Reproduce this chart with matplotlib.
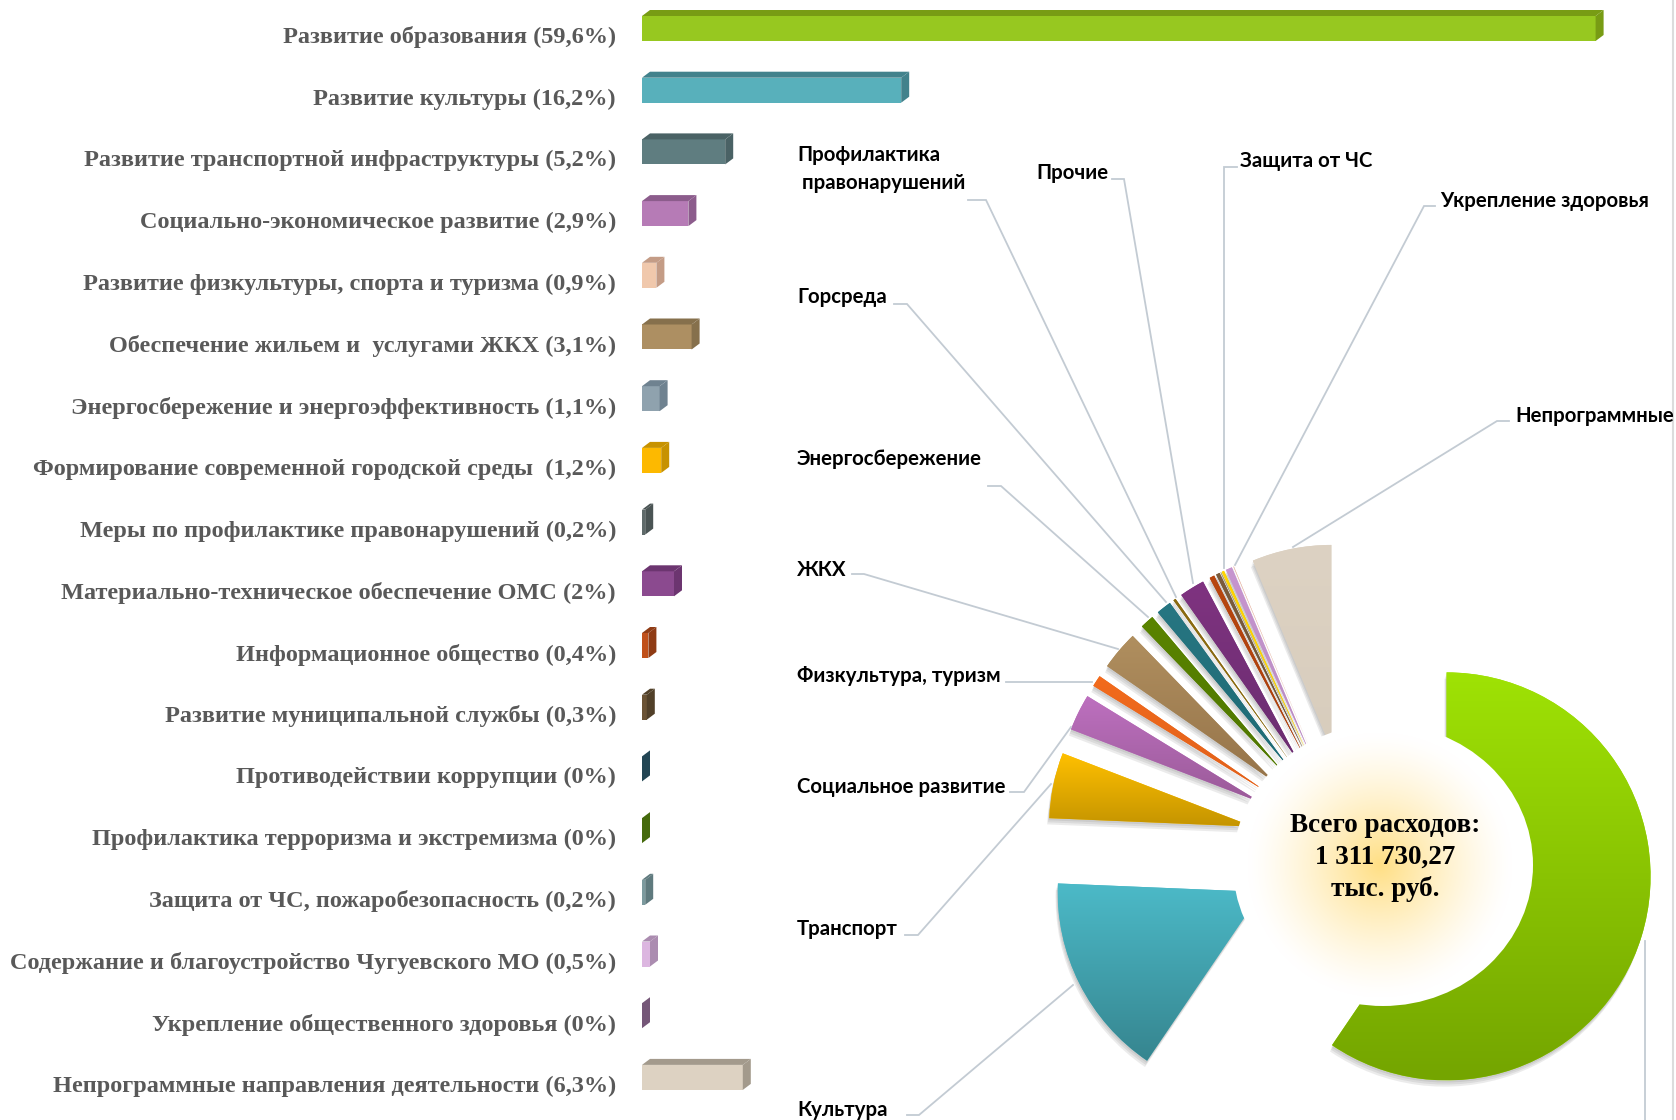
import numpy as np
import matplotlib
matplotlib.use('Agg')
import matplotlib.pyplot as plt
import matplotlib.patheffects as pe
from matplotlib.colors import to_rgb
from matplotlib.patches import Ellipse, Polygon

W, H = 1676, 1120

# bars, in the order of the chart
bar_labels = ['Развитие образования (59,6%)', 'Развитие культуры (16,2%)',
              'Развитие транспортной инфраструктуры (5,2%)', 'Социально-экономическое развитие (2,9%)',
              'Развитие физкультуры, спорта и туризма (0,9%)', 'Обеспечение жильем и  услугами ЖКХ (3,1%)',
              'Энергосбережение и энергоэффективность (1,1%)', 'Формирование современной городской среды  (1,2%)',
              'Меры по профилактике правонарушений (0,2%)', 'Материально-техническое обеспечение ОМС (2%)',
              'Информационное общество (0,4%)', 'Развитие муниципальной службы (0,3%)',
              'Противодействии коррупции (0%)', 'Профилактика терроризма и экстремизма (0%)',
              'Защита от ЧС, пожаробезопасность (0,2%)', 'Содержание и благоустройство Чугуевского МО (0,5%)',
              'Укрепление общественного здоровья (0%)', 'Непрограммные направления деятельности (6,3%)']
bar_values = [59.6, 16.2, 5.2, 2.9, 0.9, 3.1, 1.1, 1.2, 0.2, 2.0, 0.4, 0.3, 0.0, 0.0, 0.2, 0.5, 0.0, 6.3]
bar_front = ['#97c820', '#58b0bb', '#5f7d80', '#b67bb6', '#f0c8ac', '#ad8f62', '#8fa2ae', '#fdb900', '#5f6a6a',
             '#8b4a8f', '#c0501a', '#6b5335', '#2e5b6b', '#5a8a10', '#7c9a9e', '#dcb6e0', '#97709a', '#ddd2c2']
bar_dark = ['#789c14', '#42828c', '#4a6265', '#8c5c8c', '#c49c86', '#86704c', '#6f8290', '#c79200', '#4a5454',
            '#6c3570', '#8f3b14', '#514029', '#234654', '#456a0c', '#5f7a7e', '#ab8cb0', '#755778', '#a39a8c']

# pie, the zero shares are very thin slivers in the picture
pie_values = [59.6, 16.2, 5.2, 2.9, 0.9, 3.1, 1.1, 1.2, 0.2, 2.0, 0.4, 0.3, 0.02, 0.02, 0.2, 0.5, 0.04, 6.3]
pie_top = ['#9fe205', '#4cbac8', '#ffc000', '#bd70bf', '#f26b1d', '#b08f5f', '#5a8400', '#277682', '#8a6a10',
           '#7f3380', '#b8460f', '#7c5c3c', '#9a8a50', '#9a8a50', '#ffd500', '#c795cf', '#e8b8a8', '#ddd2c3']
pie_bottom = ['#74a500', '#36858f', '#c49400', '#9a5a98', '#e0601a', '#96744a', '#4f7600', '#1e6a74', '#8a6a10',
              '#6a2d70', '#a83f0d', '#6c5236', '#9a8a50', '#9a8a50', '#ffd500', '#b98cc2', '#e8b8a8', '#d8cdbd']

# name labels of the pie: text, x, y of the text, and the leader line
pie_names = ['Профилактика\n правонарушений', 'Прочие', 'Защита от ЧС', 'Укрепление здоровья', 'Горсреда',
             'Непрограммные', 'Энергосбережение', 'ЖКХ', 'Физкультура, туризм', 'Социальное развитие',
             'Транспорт', 'Культура']
name_pos = [(797, 169), (1036, 173), (1240, 161), (1440, 201), (797, 297), (1515, 416), (797, 459), (797, 570),
            (797, 676), (797, 787), (797, 929), (797, 1110)]
leaders = [[(968, 200), (986, 200), (1176, 597)], [(1112, 179), (1124, 179), (1193, 583)],
           [(1237, 167), (1224, 167), (1224, 568)], [(1435, 206), (1424, 206), (1235, 565)],
           [(894, 304), (907, 304), (1166, 602)], [(1509, 421), (1497, 421), (1293, 547)],
           [(988, 486), (1001, 486), (1148, 617)], [(852, 574), (864, 574), (1118, 649)],
           [(1006, 682), (1092, 682)], [(1010, 792), (1024, 792), (1071, 727)],
           [(905, 935), (918, 935), (1051, 784)], [(907, 1115), (919, 1115), (1073, 985)],
           [(1645, 941), (1645, 1120)]]


def px_axes(fig, left, top, right, bottom):
    return fig.add_axes([left / W, 1 - bottom / H, (right - left) / W, (bottom - top) / H])


def draw_bars(fig):
    x0, per_pct, y0, step = 642, 16.0, 28.5, 61.7
    ax = px_axes(fig, x0, 0, W, H)
    ax.set_xlim(0, (W - x0) / per_pct)
    ax.set_ylim((H - y0) / step, -y0 / step)
    ax.axis('off')
    h = 25 / step
    dx, dy = 8 / per_pct, 6 / step
    y = np.arange(len(bar_values))
    ax.barh(y, bar_values, height=h, color=bar_front, linewidth=0)
    for i, v in enumerate(bar_values):
        up = i - h / 2
        down = i + h / 2
        ax.add_patch(Polygon([(0, up), (v, up), (v + dx, up - dy), (dx, up - dy)], color=bar_dark[i], lw=0))
        ax.add_patch(Polygon([(v, up), (v + dx, up - dy), (v + dx, down - dy), (v, down)], color=bar_dark[i], lw=0))
        ax.annotate(bar_labels[i], xy=(0, i), xytext=(-26, -9), textcoords='offset pixels', ha='right', va='center',
                    family='Liberation Serif', weight='bold', fontsize=17.45, color='#595959', annotation_clip=False)


def draw_pie(fig):
    cx, cy, r = 1351, 847, 204
    left, top = 1000, 480
    ax = px_axes(fig, left, top, W, H)
    wedges, _ = ax.pie(pie_values, explode=[100 / r] * len(pie_values), startangle=90, counterclock=False,
                       radius=1, colors=pie_top, wedgeprops={'linewidth': 0}, frame=True)
    ax.set_aspect('equal')
    ax.axis('off')
    shadow = [pe.SimplePatchShadow(offset=(-o / 2, -1.5 * o), shadow_rgbFace='#606060', alpha=0.12) for o in (1, 2, 3)]
    for i, w in enumerate(wedges):
        w.set_path_effects(shadow + [pe.Normal()])
        w.set_zorder(1)
        ext = w.get_path().transformed(w.get_patch_transform()).get_extents()
        c1, c2 = np.array(to_rgb(pie_top[i])), np.array(to_rgb(pie_bottom[i]))
        t = np.linspace(0, 1, 128)[:, None, None]
        grad = c1[None, None, :] * (1 - t) + c2[None, None, :] * t
        im = ax.imshow(grad, extent=[ext.x0, ext.x1, ext.y0, ext.y1], origin='upper', aspect='auto', zorder=2)
        im.set_clip_path(w)
    ax.set_xlim((left - cx) / r, (W - cx) / r)
    ax.set_ylim((cy - H) / r, (cy - top) / r)


def draw_overlay(fig):
    ax = px_axes(fig, 0, 0, W, H)
    ax.patch.set_alpha(0)
    ax.axis('off')

    # white hole with the soft glow behind the total
    hx, hy, rx, ry = 1383, 865, 150, 141
    gx, gy = 1380, 865
    xx, yy = np.meshgrid(np.arange(hx - rx, hx + rx + 1), np.arange(hy - ry, hy + ry + 1))
    d = np.clip(np.hypot(xx - gx, yy - gy) / 132, 0, 1)
    mix = (1 - d)[:, :, None] ** 1.3
    glow = np.ones(xx.shape + (3,)) * (1 - mix) + np.array(to_rgb('#ffdf85')) * mix
    im = ax.imshow(glow, extent=[hx - rx, hx + rx, hy + ry, hy - ry], aspect='auto', zorder=3)
    hole = Ellipse((hx, hy), 2 * rx, 2 * ry, transform=ax.transData, facecolor='none', edgecolor='none')
    ax.add_patch(hole)
    im.set_clip_path(hole)
    ax.set_xlim(0, W)
    ax.set_ylim(H, 0)

    for line in leaders:
        xs, ys = zip(*line)
        ax.plot(xs, ys, color='#c3cbd3', lw=1.3, zorder=0.5, solid_joinstyle='miter')
    ax.plot([1673, 1673], [0, H], color='#dcdcdc', lw=1.5, zorder=0.5)

    for name, (x, y) in zip(pie_names, name_pos):
        ax.text(x, y, name, family='Lato', weight='bold', fontsize=14.7, color='black', ha='left', va='center',
                linespacing=1.45, zorder=5)

    for text, y in zip(['Всего расходов:', '1 311 730,27', 'тыс. руб.'], [825, 857, 889]):
        ax.text(1385, y, text, family='Liberation Serif', weight='bold', fontsize=19.5, color='black',
                ha='center', va='center', zorder=5)


if __name__ == '__main__':
    fig = plt.figure(figsize=(W / 100, H / 100), dpi=100, facecolor='white')
    draw_bars(fig)
    draw_pie(fig)
    draw_overlay(fig)
    fig.savefig('out.png', dpi=100)
